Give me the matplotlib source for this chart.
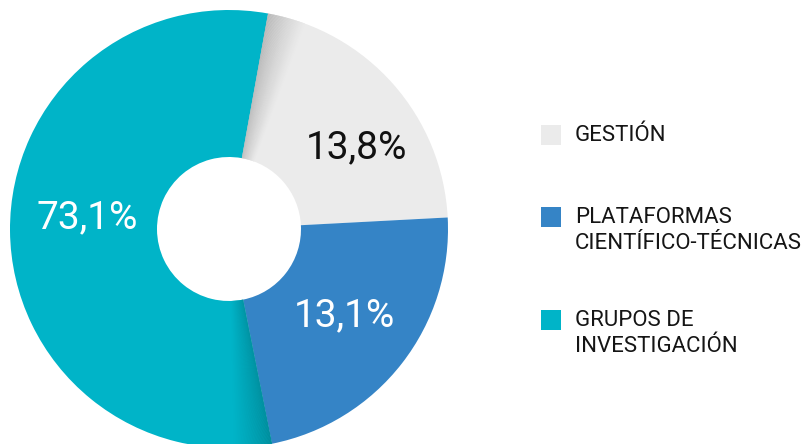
import numpy as np
import matplotlib.pyplot as plt
from matplotlib.patches import Wedge, Rectangle
from matplotlib.colors import to_rgb

plt.rcParams['font.family'] = ['Roboto', 'DejaVu Sans']

# donnees (parts visuelles des secteurs, en %)
categories = ["GESTIÓN", "PLATAFORMAS\nCIENTÍFICO-TÉCNICAS", "GRUPOS DE\nINVESTIGACIÓN"]
wedge_sizes = [21.3, 22.7, 56.0]
pct_labels = ["13,8%", "13,1%", "73,1%"]
colors = ["#ebebeb", "#3584c6", "#00b4c8"]
shadow_colors = ["#b4b4b4", None, "#008a99"]
label_colors = ["#111111", "white", "white"]

W, H = 805, 444
fig = plt.figure(figsize=(W / 100, H / 100), dpi=100)
ax = fig.add_axes([0, 0, 1, 1])

cx, cy = 229, H - 229
R, r = 219, 72
start = 90 - 10.3

wedges, _ = ax.pie(wedge_sizes, colors=colors, startangle=start, counterclock=False,
                   radius=R, center=(cx, cy), wedgeprops=dict(width=R - r, linewidth=0))

# ombres en degrade au debut de certains secteurs
for w, sc, base in zip(wedges, shadow_colors, colors):
    if sc is None:
        continue
    t_start = w.theta2  # sens horaire -> debut du secteur = theta2
    span = 10.0
    n = 50
    c0 = np.array(to_rgb(sc))
    c1 = np.array(to_rgb(base))
    for i in range(n):
        f = i / n
        col = c0 + (c1 - c0) * (f ** 0.8)
        a2 = t_start - span * f
        a1 = t_start - span * (i + 1) / n
        ax.add_patch(Wedge((cx, cy), R, a1, a2 + 0.05, width=R - r, color=col, lw=0))

# etiquettes de pourcentage
label_pos = [(357, 148), (344, 316), (87, 218)]
for (px, py), txt, c in zip(label_pos, pct_labels, label_colors):
    ax.text(px, H - py, txt, color=c, fontsize=28, ha='center', va='center')

# legende
leg_y = [125, 207, 310]
for cat, c, y in zip(categories, colors, leg_y):
    ax.add_patch(Rectangle((541, H - y - 20), 20, 20, color=c, lw=0))
    for k, line in enumerate(cat.split("\n")):
        ax.text(575, H - (y + 16 + 26 * k), line, color="#151515", fontsize=16,
                ha='left', va='baseline')

ax.set_xlim(0, W)
ax.set_ylim(0, H)
ax.set_aspect('equal')
ax.axis('off')

fig.savefig("out.png", dpi=100)
